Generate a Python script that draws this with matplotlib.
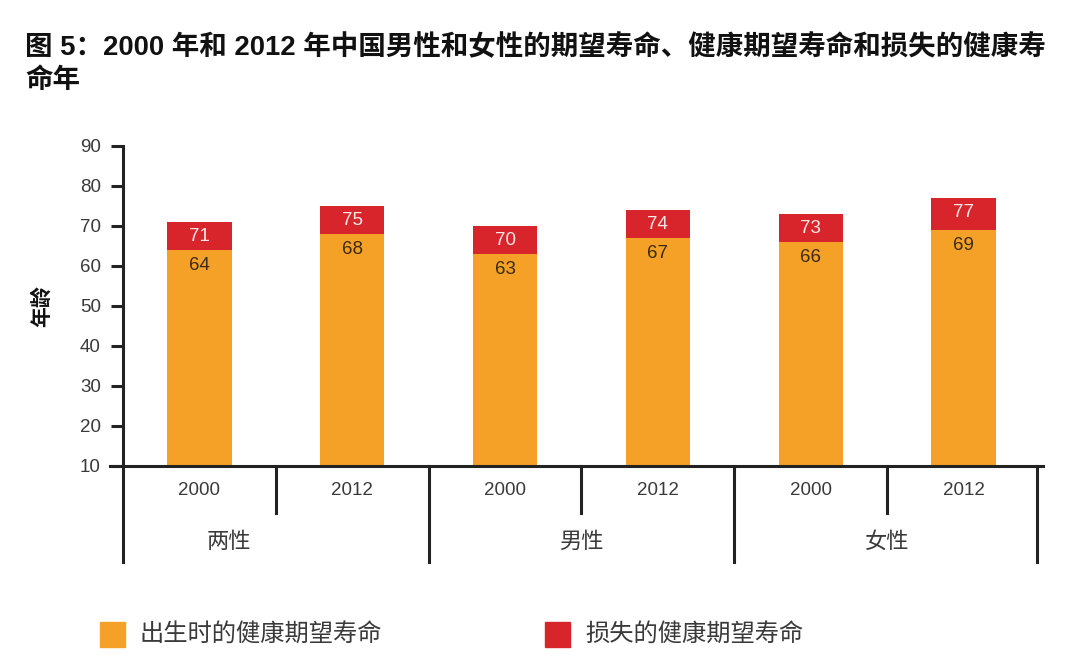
import matplotlib
matplotlib.use("Agg")
import matplotlib.pyplot as plt
import matplotlib.transforms as mtransforms
import numpy as np

plt.rcParams['font.family'] = ['Liberation Sans', 'Noto Sans CJK SC', 'DejaVu Sans']

# data
years = ['2000', '2012', '2000', '2012', '2000', '2012']
groups = ['两性', '男性', '女性']
healthy = [64, 68, 63, 67, 66, 69]     # 出生时的健康期望寿命
total = [71, 75, 70, 74, 73, 77]       # 期望寿命 (top of red)
yticks = [10, 20, 30, 40, 50, 60, 70, 80, 90]

ORANGE = '#F5A128'
RED = '#D8252B'
INK = '#3a3a3a'

fig = plt.figure(figsize=(10.8, 6.65), dpi=100)
ax = fig.add_axes([123/1080, 1 - 466/665, 917/1080, 320/665])

x = np.arange(len(years))
lost = np.array(total) - np.array(healthy)
ax.bar(x, healthy, width=0.42, color=ORANGE, zorder=2)
ax.bar(x, lost, bottom=healthy, width=0.42, color=RED, zorder=2)

for xi, h, t in zip(x, healthy, total):
    ax.text(xi, t - 3.6, str(t), ha='center', va='center', fontsize=13.5, color='#fbe9e9')
    ax.text(xi, h - 4.0, str(h), ha='center', va='center', fontsize=13.5, color='#3a2a10')

ax.set_xlim(-0.5, 5.5)
ax.set_ylim(10, 90)
for s in ax.spines.values():
    s.set_visible(False)
ax.set_xticks([])
ax.set_yticks(yticks)
ax.tick_params(axis='y', length=9, width=2.2, color='#222', pad=7,
               labelsize=13.5, labelcolor=INK)

# axis lines and category dividers
blend = mtransforms.blended_transform_factory(ax.transData, ax.transAxes)
ax.plot([-0.585, 5.52], [10, 10], color='#222', lw=2.2, clip_on=False, zorder=3)
ax.plot([-0.5, -0.5], [1.0, -0.30], color='#222', lw=2.2, clip_on=False,
        transform=blend, zorder=3)
for b in [0.5, 2.5, 4.5]:
    ax.plot([b, b], [0, -0.147], color='#222', lw=2.2, clip_on=False,
            transform=blend)
for b in [1.5, 3.5, 5.48]:
    ax.plot([b, b], [0, -0.30], color='#222', lw=2.2, clip_on=False,
            transform=blend)

for xi, yr in zip(x, years):
    ax.text(xi, -0.078, yr, ha='center', va='center', fontsize=13.5,
            color=INK, transform=blend)
for gx, g in zip([0.19, 2.5, 4.5], groups):
    ax.text(gx, -0.24, g, ha='center', va='center', fontsize=16,
            color=INK, transform=blend)

ax.set_ylabel('年龄', fontsize=15, fontweight='bold', color='#111', labelpad=20)

# title
fig.text(25/1080, 1 - 48/665, '图 5：2000 年和 2012 年中国男性和女性的期望寿命、健康期望寿命和损失的健康寿',
         fontsize=19.8, fontweight='bold', ha='left', va='center', color='#111')
fig.text(25/1080, 1 - 81/665, '命年', fontsize=19.8, fontweight='bold',
         ha='left', va='center', color='#111')

# legend
fig.patches.append(plt.Rectangle((100/1080, 1 - 647/665), 25/1080, 25/665,
                                 transform=fig.transFigure, color=ORANGE))
fig.text(140/1080, 1 - 635/665, '出生时的健康期望寿命', fontsize=17.5, color=INK,
         ha='left', va='center')
fig.patches.append(plt.Rectangle((545/1080, 1 - 647/665), 25/1080, 25/665,
                                 transform=fig.transFigure, color=RED))
fig.text(585/1080, 1 - 635/665, '损失的健康期望寿命', fontsize=17.5, color=INK,
         ha='left', va='center')

fig.savefig('out.png', dpi=100)
